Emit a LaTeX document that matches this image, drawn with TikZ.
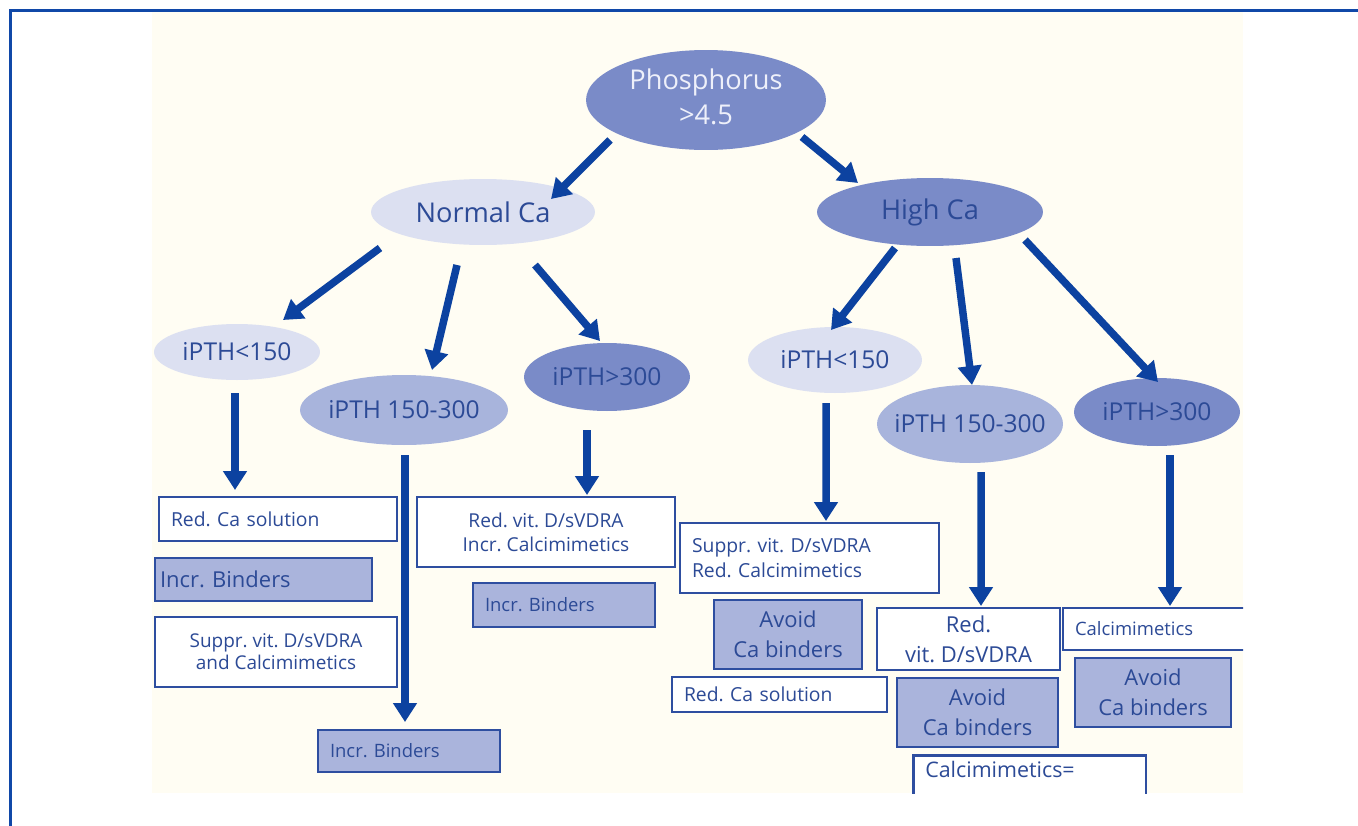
\documentclass[tikz,border=0pt]{standalone}
\usepackage{fontspec}
\setmainfont{Open Sans}
\usetikzlibrary{shapes.geometric,arrows.meta,calc}
\definecolor{framec}{RGB}{16,72,168}
\definecolor{arrc}{RGB}{12,66,160}
\definecolor{bxline}{RGB}{46,78,160}
\definecolor{bxfill}{RGB}{170,180,220}
\definecolor{txt}{RGB}{44,74,150}
\definecolor{ellA}{RGB}{220,224,241}
\definecolor{ellB}{RGB}{168,180,220}
\definecolor{ellC}{RGB}{122,139,200}
\definecolor{beige}{RGB}{255,253,243}
\definecolor{phtxt}{RGB}{238,240,250}
\tikzset{
  ell/.style={ellipse, inner sep=0pt, text=txt},
  bigtxt/.style={font=\fontsize{15.5}{20}\selectfont},
  midtxt/.style={font=\fontsize{14}{17}\selectfont},
  bx/.style={draw=bxline, line width=0.05cm, inner xsep=0.24cm, inner ysep=0pt, text=txt, font=\fontsize{11}{13.5}\selectfont},
  bxw/.style={bx, fill=white},
  bxf/.style={bx, fill=bxfill},
  bigbx/.style={font=\fontsize{12.5}{17}\selectfont},
  arr/.style={draw=arrc, line width=0.15cm, -{Triangle[width=0.46cm,length=0.38cm]}},
}
\frenchspacing
\begin{document}
\frenchspacing
\begin{tikzpicture}[x=0.02cm,y=-0.02cm]
\useasboundingbox (0,0) rectangle (1358,825);
\fill[white] (0,0) rectangle (1358,825);
\fill[beige] (152,12) rectangle (1243,793);
\draw[framec, line width=0.06cm] (10.5,830) -- (10.5,10) -- (1362,10);

% ellipses
\node[ell, fill=ellC, minimum width=4.8cm, minimum height=2cm, text=phtxt, bigtxt] (ph) at (706,100)
  {\makebox[0pt]{\begin{tabular}{@{}c@{}}Phosphorus\\>4.5\end{tabular}}};
\node[ell, fill=ellA, minimum width=4.48cm, minimum height=1.32cm, bigtxt] (nca) at (483,212) {\makebox[0pt]{Normal Ca}};
\node[ell, fill=ellC, minimum width=4.52cm, minimum height=1.36cm, bigtxt] (hca) at (930,212) {\makebox[0pt]{High Ca}};
\node[ell, fill=ellA, minimum width=3.32cm, minimum height=1.12cm, midtxt] (l1) at (237,352) {\makebox[0pt]{iPTH<150}};
\node[ell, fill=ellB, minimum width=4.16cm, minimum height=1.4cm, midtxt] (l2) at (404,410) {\makebox[0pt]{iPTH 150-300}};
\node[ell, fill=ellC, minimum width=3.32cm, minimum height=1.36cm, midtxt] (l3) at (607,377) {\makebox[0pt]{iPTH>300}};
\node[ell, fill=ellA, minimum width=3.48cm, minimum height=1.32cm, midtxt] (r1) at (835,360) {\makebox[0pt]{iPTH<150}};
\node[ell, fill=ellB, minimum width=3.72cm, minimum height=1.56cm, midtxt] (r2) at (970,424) {\makebox[0pt]{iPTH 150-300}};
\node[ell, fill=ellC, minimum width=3.32cm, minimum height=1.36cm, midtxt] (r3) at (1157,412) {\makebox[0pt]{iPTH>300}};

% boxes
\node[bxw, minimum width=4.76cm, minimum height=0.88cm, text width=4.28cm, align=left] (b1) at (278,519) {Red. Ca solution};
\node[bxf, inner xsep=0.1cm, minimum width=4.34cm, minimum height=0.86cm, text width=4.14cm, align=left, font=\fontsize{12.5}{15}\selectfont] (b2) at (263.5,579.5) {Incr. Binders};
\node[bxw, minimum width=4.84cm, minimum height=1.4cm, align=center, font=\fontsize{10.8}{12.6}\selectfont] (b3) at (276,652) {Suppr. vit. D/sVDRA\\and Calcimimetics};
\node[bxf, minimum width=3.64cm, minimum height=0.84cm, text width=3.16cm, align=left, font=\fontsize{10.5}{12.5}\selectfont] (b4) at (409,751) {Incr. Binders};
\node[bxw, minimum width=5.16cm, minimum height=1.4cm, align=center, font=\fontsize{10.9}{13.7}\selectfont] (b5) at (546,532) {Red. vit. D/sVDRA\\Incr. Calcimimetics};
\node[bxf, minimum width=3.64cm, minimum height=0.88cm, text width=3.16cm, align=left, font=\fontsize{10.5}{12.5}\selectfont] (b6) at (564,605) {Incr. Binders};
\node[bxw, minimum width=5.18cm, minimum height=1.4cm, text width=4.70cm, align=left, font=\fontsize{11}{13.7}\selectfont] (b7) at (809.5,558) {Suppr. vit. D/sVDRA\\Red. Calcimimetics};
\node[bxf, minimum width=2.96cm, minimum height=1.38cm, align=center, bigbx] (b8) at (788,634.5) {Avoid\\Ca binders};
\node[bxw, minimum width=4.3cm, minimum height=0.7cm, text width=3.82cm, align=left] (b9) at (779.5,694.5) {Red. Ca solution};
\node[bxw, minimum width=3.66cm, minimum height=1.24cm, align=center, bigbx] (b10) at (968.5,639) {Red.\\vit. D/sVDRA};
\node[bxf, minimum width=3.22cm, minimum height=1.38cm, align=center, bigbx] (b12) at (977.5,712.5) {Avoid\\Ca binders};
\node[bxf, minimum width=3.12cm, minimum height=1.38cm, align=center, bigbx] (b13) at (1153,692.5) {Avoid\\Ca binders};
\begin{scope}
  \clip (152,12) rectangle (1243,793);
  \node[bxw, minimum width=3.6cm, minimum height=0.84cm, text width=3.16cm, align=left, font=\fontsize{10.5}{12.5}\selectfont] (b11) at (1154,629) {Calcimimetics};
  \node[bxw, anchor=north west, minimum width=4.66cm, text width=4.18cm, align=left, text height=0.44cm, text depth=0.5cm, font=\fontsize{12.2}{15}\selectfont] (b14) at (912,754) {Calcimimetics=};
\end{scope}

% arrows
\draw[arr] ($(ph.center)+(-96,40)$) -- ($(nca.center)+(68,-13)$);
\draw[arr] ($(ph.center)+(96,37)$) -- ($(hca.center)+(-72,-29)$);
\draw[arr] ($(nca.center)+(-103,36)$) -- ($(l1.center)+(46,-32)$);
\draw[arr] ($(nca.center)+(-26,53)$) -- ($(l2.center)+(28,-40)$);
\draw[arr] ($(nca.center)+(52,53)$) -- ($(l3.center)+(-7,-36)$);
\draw[arr] ($(hca.center)+(-35,36)$) -- ($(r1.center)+(-4,-30)$);
\draw[arr] ($(hca.center)+(26,46)$) -- ($(r2.center)+(2,-39)$);
\draw[arr] ($(hca.center)+(95,28)$) -- ($(r3.center)+(1,-30)$);
\draw[arr] ($(l1.center)+(-2,41)$) -- ($(b1.center)+(-43,-29)$);
\draw[arr] ($(l2.center)+(1,45)$) -- ($(b4.center)+(-4,-29)$);
\draw[arr] ($(l3.center)+(-20,53)$) -- ($(b5.center)+(41,-37)$);
\draw[arr] ($(r1.center)+(-9,43)$) -- ($(b7.center)+(16.5,-37)$);
\draw[arr] ($(r2.center)+(11,48)$) -- ($(b10.center)+(12.5,-33)$);
\draw[arr] ($(r3.center)+(13,43)$) -- ($(b11.center)+(16,-23)$);
\end{tikzpicture}
\end{document}
